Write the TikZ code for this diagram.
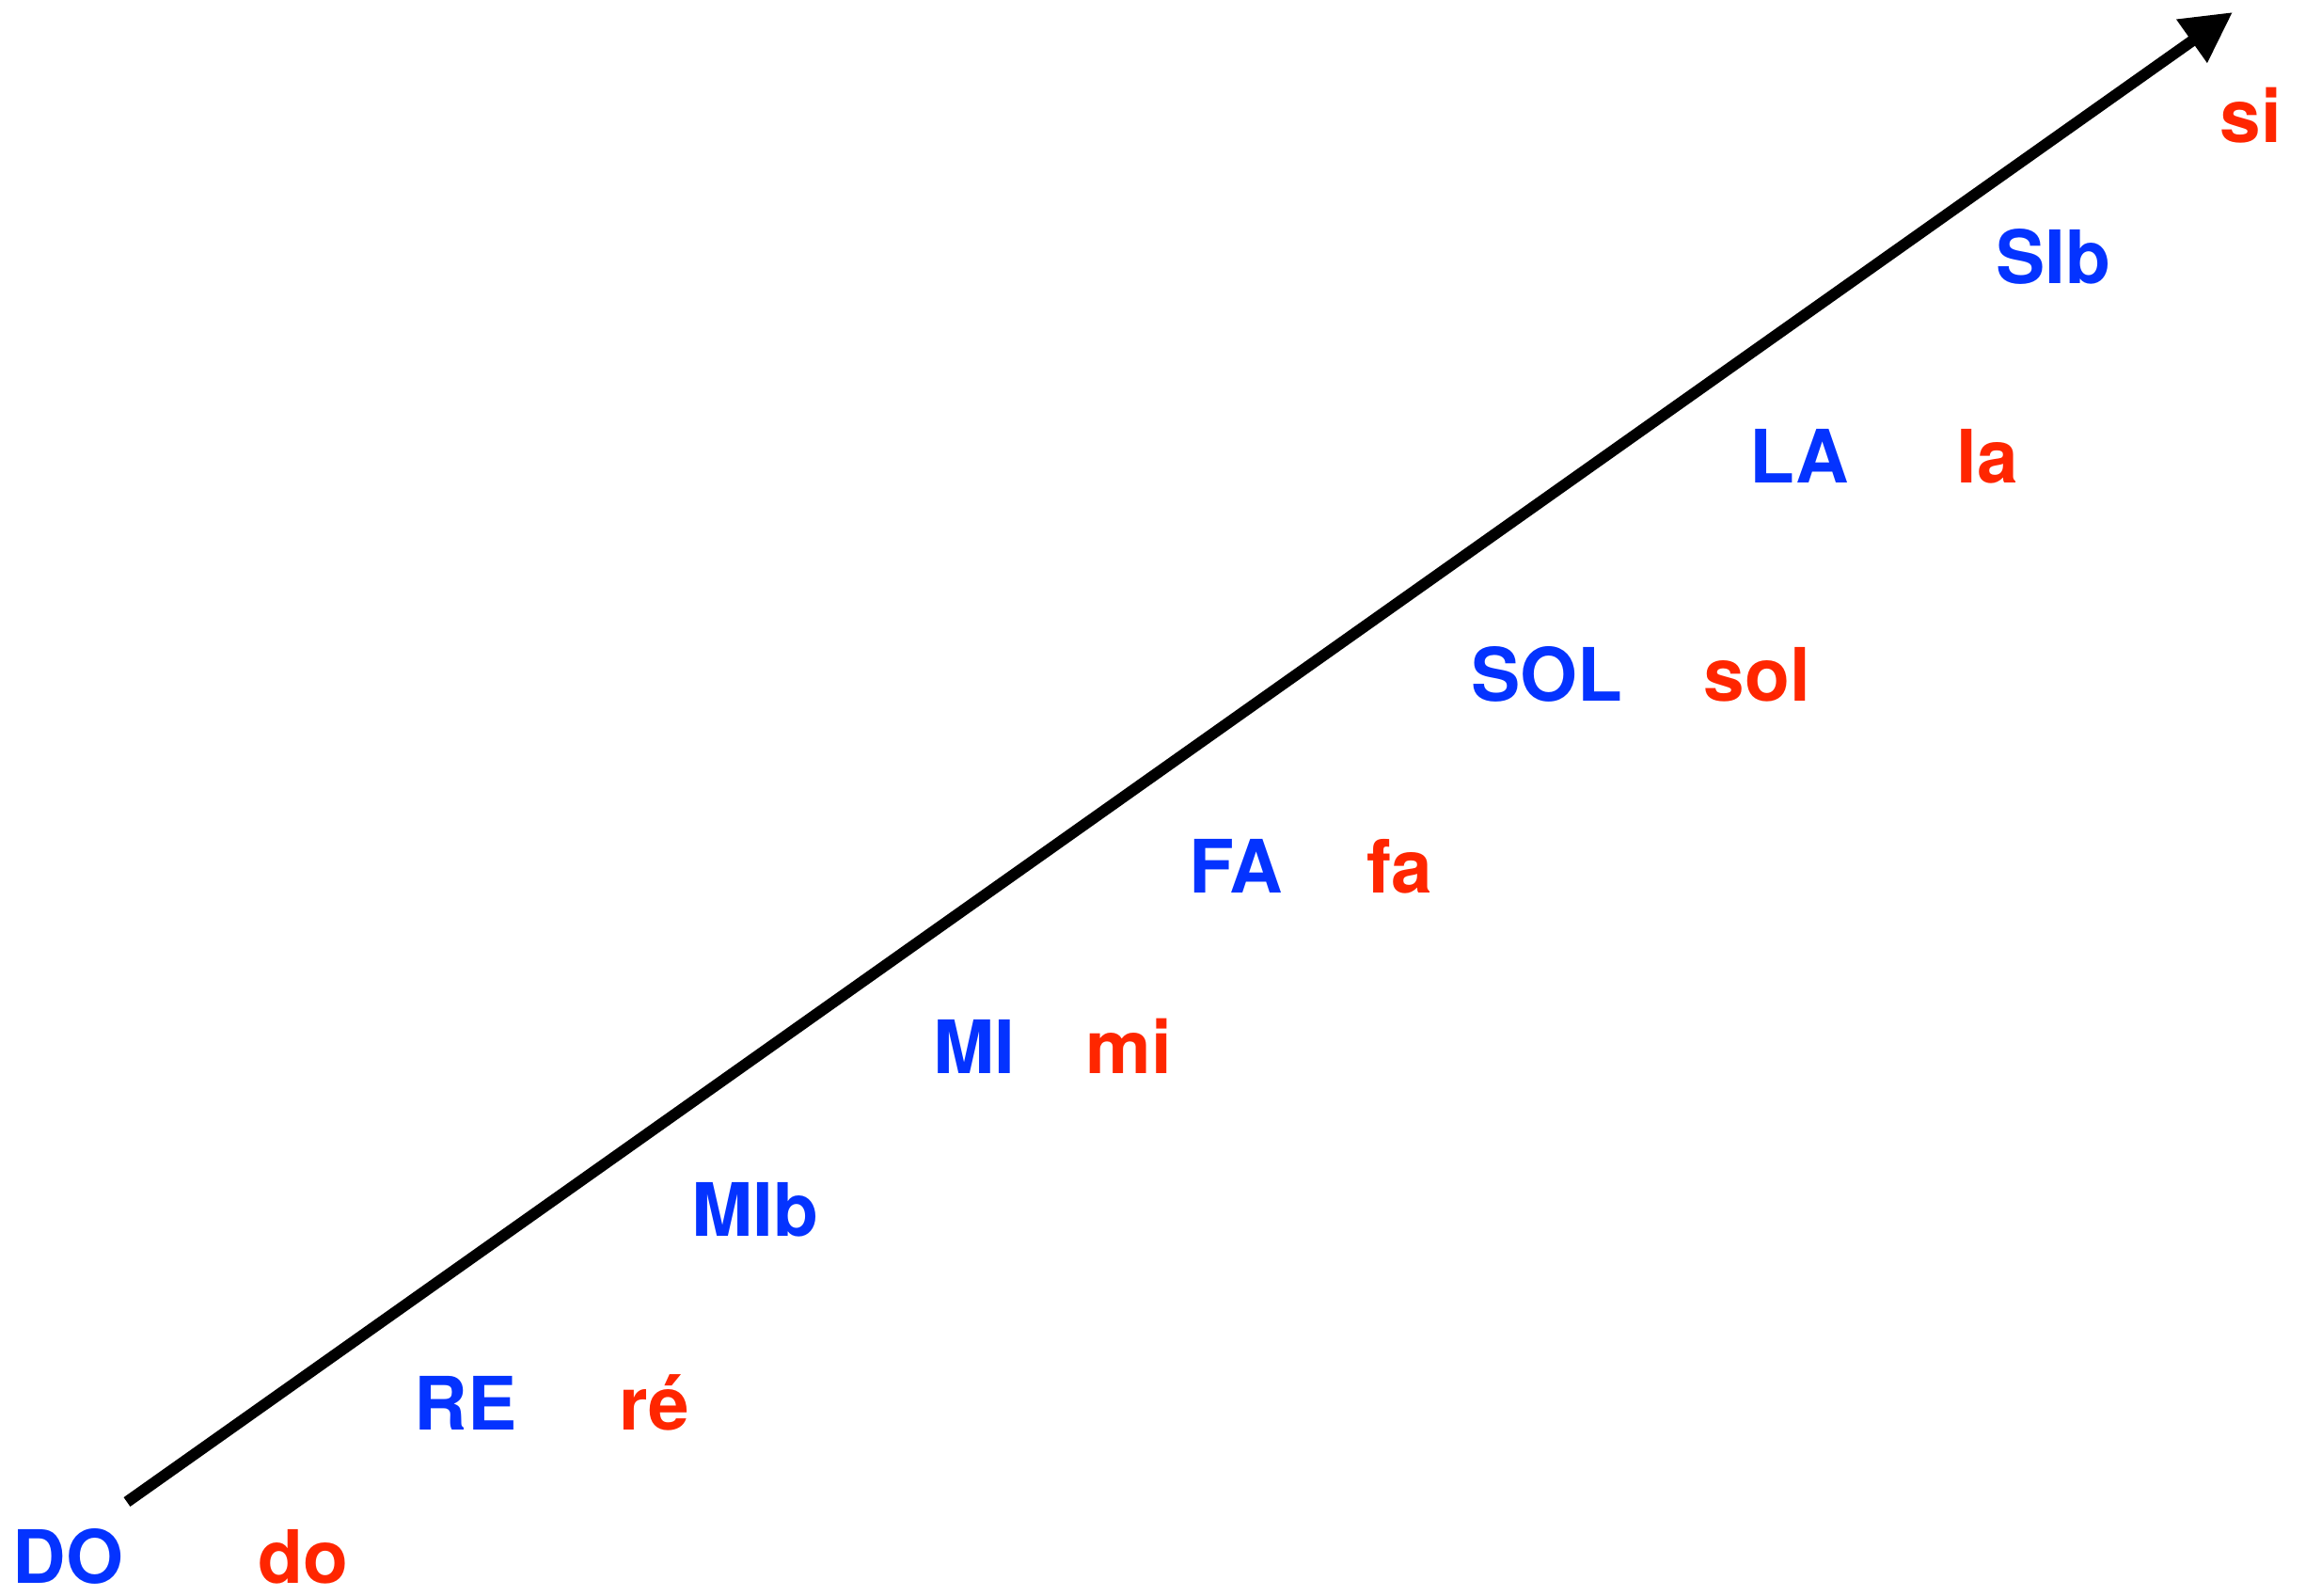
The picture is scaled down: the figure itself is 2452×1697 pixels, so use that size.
\documentclass[tikz,border=0pt]{standalone}
\usepackage{fontspec}
\setmainfont{TeX Gyre Heros}
\usetikzlibrary{arrows.meta}
\definecolor{nblue}{HTML}{0433FF}
\definecolor{nred}{HTML}{FF2600}
\tikzset{
  lbl/.style={anchor=base west, inner sep=0pt, font=\fontsize{23.5}{28}\selectfont\bfseries},
  up/.style={lbl, text=nblue},
  lo/.style={lbl, text=nred},
  axisline/.style={line width=3.6pt, -{Triangle[length=16pt,width=16pt]}}
}
\begin{document}
\begin{tikzpicture}[x=0.3pt,y=-0.3pt]
\useasboundingbox (0,0) rectangle (2452,1697);
\coordinate (start) at (135,1597);
\coordinate (tip) at (2374,13);
\draw[axisline] (start) -- (tip);
\node[up] (DO) at (13,1683) {DO};
\node[lo] (do) at (274,1683) {do};
\node[up] (RE) at (440,1520) {RE};
\node[lo] (re) at (658,1520) {ré};
\node[up] (MIb) at (735,1314) {MIb};
\node[up] (MI) at (992,1141) {MI};
\node[lo] (mi) at (1154,1141) {mi};
\node[up] (FA) at (1264,949) {FA};
\node[lo] (fa) at (1453,949) {fa};
\node[up] (SOL) at (1564,746) {SOL};
\node[lo] (sol) at (1811,746) {sol};
\node[up] (LA) at (1860,514) {LA};
\node[lo] (la) at (2080,514) {la};
\node[up] (SIb) at (2122,302) {SIb};
\node[lo] (si) at (2360,152) {si};
\end{tikzpicture}
\end{document}
